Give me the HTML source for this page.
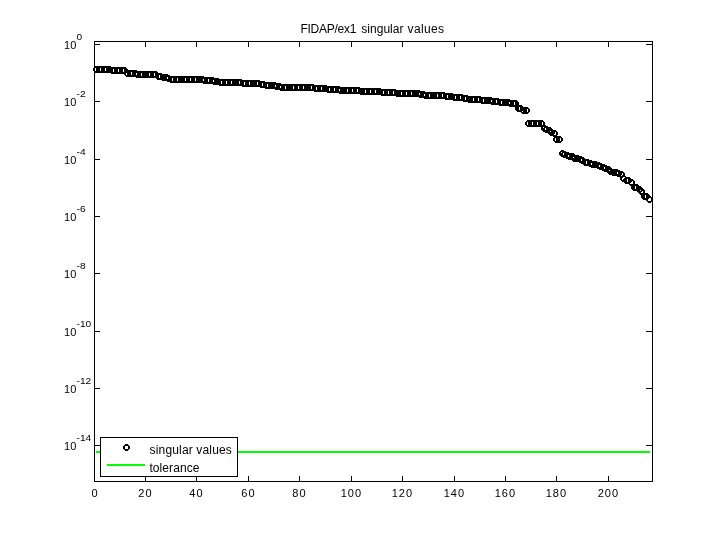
<!DOCTYPE html>
<html><head><meta charset="utf-8"><title>FIDAP/ex1 singular values</title>
<style>
html,body{margin:0;padding:0;background:#fff;}
body{width:720px;height:540px;overflow:hidden;}
svg{display:block;font-family:"Liberation Sans",sans-serif;fill:#000;}
</style></head><body>
<svg width="720" height="540" viewBox="0 0 720 540">
<rect x="0" y="0" width="720" height="540" fill="#fff"/>
<g><rect x="94" y="41" width="559" height="1" fill="#000"/><rect x="94" y="481" width="559" height="1" fill="#000"/><rect x="94" y="41" width="1" height="441" fill="#000"/><rect x="652" y="41" width="1" height="441" fill="#000"/><rect x="95" y="44" width="5" height="1" fill="#000"/><rect x="646" y="44" width="6" height="1" fill="#000"/><rect x="95" y="101" width="5" height="1" fill="#000"/><rect x="646" y="101" width="6" height="1" fill="#000"/><rect x="95" y="159" width="5" height="1" fill="#000"/><rect x="646" y="159" width="6" height="1" fill="#000"/><rect x="95" y="216" width="5" height="1" fill="#000"/><rect x="646" y="216" width="6" height="1" fill="#000"/><rect x="95" y="273" width="5" height="1" fill="#000"/><rect x="646" y="273" width="6" height="1" fill="#000"/><rect x="95" y="331" width="5" height="1" fill="#000"/><rect x="646" y="331" width="6" height="1" fill="#000"/><rect x="95" y="388" width="5" height="1" fill="#000"/><rect x="646" y="388" width="6" height="1" fill="#000"/><rect x="95" y="445" width="5" height="1" fill="#000"/><rect x="646" y="445" width="6" height="1" fill="#000"/><rect x="145" y="42" width="1" height="5" fill="#000"/><rect x="145" y="476" width="1" height="5" fill="#000"/><rect x="196" y="42" width="1" height="5" fill="#000"/><rect x="196" y="476" width="1" height="5" fill="#000"/><rect x="248" y="42" width="1" height="5" fill="#000"/><rect x="248" y="476" width="1" height="5" fill="#000"/><rect x="299" y="42" width="1" height="5" fill="#000"/><rect x="299" y="476" width="1" height="5" fill="#000"/><rect x="351" y="42" width="1" height="5" fill="#000"/><rect x="351" y="476" width="1" height="5" fill="#000"/><rect x="402" y="42" width="1" height="5" fill="#000"/><rect x="402" y="476" width="1" height="5" fill="#000"/><rect x="454" y="42" width="1" height="5" fill="#000"/><rect x="454" y="476" width="1" height="5" fill="#000"/><rect x="505" y="42" width="1" height="5" fill="#000"/><rect x="505" y="476" width="1" height="5" fill="#000"/><rect x="556" y="42" width="1" height="5" fill="#000"/><rect x="556" y="476" width="1" height="5" fill="#000"/><rect x="608" y="42" width="1" height="5" fill="#000"/><rect x="608" y="476" width="1" height="5" fill="#000"/><rect x="96" y="451" width="554" height="2" fill="#00ff00"/></g>
<g fill="#000" fill-rule="evenodd" shape-rendering="crispEdges"><path d="M95 66h3v1h1v1h1v3h-1v1h-1v1h-3v-1h-1v-1h-1v-3h1v-1h1zM95 68h3v3h-3z"/><path d="M98 66h3v1h1v1h1v3h-1v1h-1v1h-3v-1h-1v-1h-1v-3h1v-1h1zM98 68h3v3h-3z"/><path d="M100 66h3v1h1v1h1v3h-1v1h-1v1h-3v-1h-1v-1h-1v-3h1v-1h1zM100 68h3v3h-3z"/><path d="M103 66h3v1h1v1h1v3h-1v1h-1v1h-3v-1h-1v-1h-1v-3h1v-1h1zM103 68h3v3h-3z"/><path d="M105 66h3v1h1v1h1v3h-1v1h-1v1h-3v-1h-1v-1h-1v-3h1v-1h1zM105 68h3v3h-3z"/><path d="M108 66h3v1h1v1h1v3h-1v1h-1v1h-3v-1h-1v-1h-1v-3h1v-1h1zM108 68h3v3h-3z"/><path d="M111 67h3v1h1v1h1v3h-1v1h-1v1h-3v-1h-1v-1h-1v-3h1v-1h1zM111 69h3v3h-3z"/><path d="M113 67h3v1h1v1h1v3h-1v1h-1v1h-3v-1h-1v-1h-1v-3h1v-1h1zM113 69h3v3h-3z"/><path d="M116 67h3v1h1v1h1v3h-1v1h-1v1h-3v-1h-1v-1h-1v-3h1v-1h1zM116 69h3v3h-3z"/><path d="M118 67h3v1h1v1h1v3h-1v1h-1v1h-3v-1h-1v-1h-1v-3h1v-1h1zM118 69h3v3h-3z"/><path d="M121 67h3v1h1v1h1v3h-1v1h-1v1h-3v-1h-1v-1h-1v-3h1v-1h1zM121 69h3v3h-3z"/><path d="M123 67h3v1h1v1h1v3h-1v1h-1v1h-3v-1h-1v-1h-1v-3h1v-1h1zM123 69h3v3h-3z"/><path d="M126 70h3v1h1v1h1v3h-1v1h-1v1h-3v-1h-1v-1h-1v-3h1v-1h1zM126 72h3v3h-3z"/><path d="M129 70h3v1h1v1h1v3h-1v1h-1v1h-3v-1h-1v-1h-1v-3h1v-1h1zM129 72h3v3h-3z"/><path d="M131 70h3v1h1v1h1v3h-1v1h-1v1h-3v-1h-1v-1h-1v-3h1v-1h1zM131 72h3v3h-3z"/><path d="M134 70h3v1h1v1h1v3h-1v1h-1v1h-3v-1h-1v-1h-1v-3h1v-1h1zM134 72h3v3h-3z"/><path d="M136 71h3v1h1v1h1v3h-1v1h-1v1h-3v-1h-1v-1h-1v-3h1v-1h1zM136 73h3v3h-3z"/><path d="M139 71h3v1h1v1h1v3h-1v1h-1v1h-3v-1h-1v-1h-1v-3h1v-1h1zM139 73h3v3h-3z"/><path d="M141 71h3v1h1v1h1v3h-1v1h-1v1h-3v-1h-1v-1h-1v-3h1v-1h1zM141 73h3v3h-3z"/><path d="M144 71h3v1h1v1h1v3h-1v1h-1v1h-3v-1h-1v-1h-1v-3h1v-1h1zM144 73h3v3h-3z"/><path d="M147 71h3v1h1v1h1v3h-1v1h-1v1h-3v-1h-1v-1h-1v-3h1v-1h1zM147 73h3v3h-3z"/><path d="M149 71h3v1h1v1h1v3h-1v1h-1v1h-3v-1h-1v-1h-1v-3h1v-1h1zM149 73h3v3h-3z"/><path d="M152 71h3v1h1v1h1v3h-1v1h-1v1h-3v-1h-1v-1h-1v-3h1v-1h1zM152 73h3v3h-3z"/><path d="M154 71h3v1h1v1h1v3h-1v1h-1v1h-3v-1h-1v-1h-1v-3h1v-1h1zM154 73h3v3h-3z"/><path d="M157 73h3v1h1v1h1v3h-1v1h-1v1h-3v-1h-1v-1h-1v-3h1v-1h1zM157 75h3v3h-3z"/><path d="M159 73h3v1h1v1h1v3h-1v1h-1v1h-3v-1h-1v-1h-1v-3h1v-1h1zM159 75h3v3h-3z"/><path d="M162 74h3v1h1v1h1v3h-1v1h-1v1h-3v-1h-1v-1h-1v-3h1v-1h1zM162 76h3v3h-3z"/><path d="M165 74h3v1h1v1h1v3h-1v1h-1v1h-3v-1h-1v-1h-1v-3h1v-1h1zM165 76h3v3h-3z"/><path d="M167 75h3v1h1v1h1v3h-1v1h-1v1h-3v-1h-1v-1h-1v-3h1v-1h1zM167 77h3v3h-3z"/><path d="M170 76h3v1h1v1h1v3h-1v1h-1v1h-3v-1h-1v-1h-1v-3h1v-1h1zM170 78h3v3h-3z"/><path d="M172 76h3v1h1v1h1v3h-1v1h-1v1h-3v-1h-1v-1h-1v-3h1v-1h1zM172 78h3v3h-3z"/><path d="M175 76h3v1h1v1h1v3h-1v1h-1v1h-3v-1h-1v-1h-1v-3h1v-1h1zM175 78h3v3h-3z"/><path d="M177 76h3v1h1v1h1v3h-1v1h-1v1h-3v-1h-1v-1h-1v-3h1v-1h1zM177 78h3v3h-3z"/><path d="M180 76h3v1h1v1h1v3h-1v1h-1v1h-3v-1h-1v-1h-1v-3h1v-1h1zM180 78h3v3h-3z"/><path d="M183 76h3v1h1v1h1v3h-1v1h-1v1h-3v-1h-1v-1h-1v-3h1v-1h1zM183 78h3v3h-3z"/><path d="M185 76h3v1h1v1h1v3h-1v1h-1v1h-3v-1h-1v-1h-1v-3h1v-1h1zM185 78h3v3h-3z"/><path d="M188 76h3v1h1v1h1v3h-1v1h-1v1h-3v-1h-1v-1h-1v-3h1v-1h1zM188 78h3v3h-3z"/><path d="M190 76h3v1h1v1h1v3h-1v1h-1v1h-3v-1h-1v-1h-1v-3h1v-1h1zM190 78h3v3h-3z"/><path d="M193 76h3v1h1v1h1v3h-1v1h-1v1h-3v-1h-1v-1h-1v-3h1v-1h1zM193 78h3v3h-3z"/><path d="M195 76h3v1h1v1h1v3h-1v1h-1v1h-3v-1h-1v-1h-1v-3h1v-1h1zM195 78h3v3h-3z"/><path d="M198 76h3v1h1v1h1v3h-1v1h-1v1h-3v-1h-1v-1h-1v-3h1v-1h1zM198 78h3v3h-3z"/><path d="M201 76h3v1h1v1h1v3h-1v1h-1v1h-3v-1h-1v-1h-1v-3h1v-1h1zM201 78h3v3h-3z"/><path d="M203 77h3v1h1v1h1v3h-1v1h-1v1h-3v-1h-1v-1h-1v-3h1v-1h1zM203 79h3v3h-3z"/><path d="M206 77h3v1h1v1h1v3h-1v1h-1v1h-3v-1h-1v-1h-1v-3h1v-1h1zM206 79h3v3h-3z"/><path d="M208 77h3v1h1v1h1v3h-1v1h-1v1h-3v-1h-1v-1h-1v-3h1v-1h1zM208 79h3v3h-3z"/><path d="M211 77h3v1h1v1h1v3h-1v1h-1v1h-3v-1h-1v-1h-1v-3h1v-1h1zM211 79h3v3h-3z"/><path d="M213 78h3v1h1v1h1v3h-1v1h-1v1h-3v-1h-1v-1h-1v-3h1v-1h1zM213 80h3v3h-3z"/><path d="M216 78h3v1h1v1h1v3h-1v1h-1v1h-3v-1h-1v-1h-1v-3h1v-1h1zM216 80h3v3h-3z"/><path d="M219 79h3v1h1v1h1v3h-1v1h-1v1h-3v-1h-1v-1h-1v-3h1v-1h1zM219 81h3v3h-3z"/><path d="M221 79h3v1h1v1h1v3h-1v1h-1v1h-3v-1h-1v-1h-1v-3h1v-1h1zM221 81h3v3h-3z"/><path d="M224 79h3v1h1v1h1v3h-1v1h-1v1h-3v-1h-1v-1h-1v-3h1v-1h1zM224 81h3v3h-3z"/><path d="M226 79h3v1h1v1h1v3h-1v1h-1v1h-3v-1h-1v-1h-1v-3h1v-1h1zM226 81h3v3h-3z"/><path d="M229 79h3v1h1v1h1v3h-1v1h-1v1h-3v-1h-1v-1h-1v-3h1v-1h1zM229 81h3v3h-3z"/><path d="M231 79h3v1h1v1h1v3h-1v1h-1v1h-3v-1h-1v-1h-1v-3h1v-1h1zM231 81h3v3h-3z"/><path d="M234 79h3v1h1v1h1v3h-1v1h-1v1h-3v-1h-1v-1h-1v-3h1v-1h1zM234 81h3v3h-3z"/><path d="M237 79h3v1h1v1h1v3h-1v1h-1v1h-3v-1h-1v-1h-1v-3h1v-1h1zM237 81h3v3h-3z"/><path d="M239 79h3v1h1v1h1v3h-1v1h-1v1h-3v-1h-1v-1h-1v-3h1v-1h1zM239 81h3v3h-3z"/><path d="M242 80h3v1h1v1h1v3h-1v1h-1v1h-3v-1h-1v-1h-1v-3h1v-1h1zM242 82h3v3h-3z"/><path d="M244 80h3v1h1v1h1v3h-1v1h-1v1h-3v-1h-1v-1h-1v-3h1v-1h1zM244 82h3v3h-3z"/><path d="M247 80h3v1h1v1h1v3h-1v1h-1v1h-3v-1h-1v-1h-1v-3h1v-1h1zM247 82h3v3h-3z"/><path d="M249 80h3v1h1v1h1v3h-1v1h-1v1h-3v-1h-1v-1h-1v-3h1v-1h1zM249 82h3v3h-3z"/><path d="M252 80h3v1h1v1h1v3h-1v1h-1v1h-3v-1h-1v-1h-1v-3h1v-1h1zM252 82h3v3h-3z"/><path d="M255 80h3v1h1v1h1v3h-1v1h-1v1h-3v-1h-1v-1h-1v-3h1v-1h1zM255 82h3v3h-3z"/><path d="M257 80h3v1h1v1h1v3h-1v1h-1v1h-3v-1h-1v-1h-1v-3h1v-1h1zM257 82h3v3h-3z"/><path d="M260 81h3v1h1v1h1v3h-1v1h-1v1h-3v-1h-1v-1h-1v-3h1v-1h1zM260 83h3v3h-3z"/><path d="M262 81h3v1h1v1h1v3h-1v1h-1v1h-3v-1h-1v-1h-1v-3h1v-1h1zM262 83h3v3h-3z"/><path d="M265 82h3v1h1v1h1v3h-1v1h-1v1h-3v-1h-1v-1h-1v-3h1v-1h1zM265 84h3v3h-3z"/><path d="M267 82h3v1h1v1h1v3h-1v1h-1v1h-3v-1h-1v-1h-1v-3h1v-1h1zM267 84h3v3h-3z"/><path d="M270 82h3v1h1v1h1v3h-1v1h-1v1h-3v-1h-1v-1h-1v-3h1v-1h1zM270 84h3v3h-3z"/><path d="M273 82h3v1h1v1h1v3h-1v1h-1v1h-3v-1h-1v-1h-1v-3h1v-1h1zM273 84h3v3h-3z"/><path d="M275 83h3v1h1v1h1v3h-1v1h-1v1h-3v-1h-1v-1h-1v-3h1v-1h1zM275 85h3v3h-3z"/><path d="M278 83h3v1h1v1h1v3h-1v1h-1v1h-3v-1h-1v-1h-1v-3h1v-1h1zM278 85h3v3h-3z"/><path d="M280 84h3v1h1v1h1v3h-1v1h-1v1h-3v-1h-1v-1h-1v-3h1v-1h1zM280 86h3v3h-3z"/><path d="M283 84h3v1h1v1h1v3h-1v1h-1v1h-3v-1h-1v-1h-1v-3h1v-1h1zM283 86h3v3h-3z"/><path d="M285 84h3v1h1v1h1v3h-1v1h-1v1h-3v-1h-1v-1h-1v-3h1v-1h1zM285 86h3v3h-3z"/><path d="M288 84h3v1h1v1h1v3h-1v1h-1v1h-3v-1h-1v-1h-1v-3h1v-1h1zM288 86h3v3h-3z"/><path d="M291 84h3v1h1v1h1v3h-1v1h-1v1h-3v-1h-1v-1h-1v-3h1v-1h1zM291 86h3v3h-3z"/><path d="M293 84h3v1h1v1h1v3h-1v1h-1v1h-3v-1h-1v-1h-1v-3h1v-1h1zM293 86h3v3h-3z"/><path d="M296 84h3v1h1v1h1v3h-1v1h-1v1h-3v-1h-1v-1h-1v-3h1v-1h1zM296 86h3v3h-3z"/><path d="M298 84h3v1h1v1h1v3h-1v1h-1v1h-3v-1h-1v-1h-1v-3h1v-1h1zM298 86h3v3h-3z"/><path d="M301 84h3v1h1v1h1v3h-1v1h-1v1h-3v-1h-1v-1h-1v-3h1v-1h1zM301 86h3v3h-3z"/><path d="M303 84h3v1h1v1h1v3h-1v1h-1v1h-3v-1h-1v-1h-1v-3h1v-1h1zM303 86h3v3h-3z"/><path d="M306 84h3v1h1v1h1v3h-1v1h-1v1h-3v-1h-1v-1h-1v-3h1v-1h1zM306 86h3v3h-3z"/><path d="M309 84h3v1h1v1h1v3h-1v1h-1v1h-3v-1h-1v-1h-1v-3h1v-1h1zM309 86h3v3h-3z"/><path d="M311 84h3v1h1v1h1v3h-1v1h-1v1h-3v-1h-1v-1h-1v-3h1v-1h1zM311 86h3v3h-3z"/><path d="M314 85h3v1h1v1h1v3h-1v1h-1v1h-3v-1h-1v-1h-1v-3h1v-1h1zM314 87h3v3h-3z"/><path d="M316 85h3v1h1v1h1v3h-1v1h-1v1h-3v-1h-1v-1h-1v-3h1v-1h1zM316 87h3v3h-3z"/><path d="M319 85h3v1h1v1h1v3h-1v1h-1v1h-3v-1h-1v-1h-1v-3h1v-1h1zM319 87h3v3h-3z"/><path d="M321 85h3v1h1v1h1v3h-1v1h-1v1h-3v-1h-1v-1h-1v-3h1v-1h1zM321 87h3v3h-3z"/><path d="M324 85h3v1h1v1h1v3h-1v1h-1v1h-3v-1h-1v-1h-1v-3h1v-1h1zM324 87h3v3h-3z"/><path d="M327 86h3v1h1v1h1v3h-1v1h-1v1h-3v-1h-1v-1h-1v-3h1v-1h1zM327 88h3v3h-3z"/><path d="M329 86h3v1h1v1h1v3h-1v1h-1v1h-3v-1h-1v-1h-1v-3h1v-1h1zM329 88h3v3h-3z"/><path d="M332 86h3v1h1v1h1v3h-1v1h-1v1h-3v-1h-1v-1h-1v-3h1v-1h1zM332 88h3v3h-3z"/><path d="M334 86h3v1h1v1h1v3h-1v1h-1v1h-3v-1h-1v-1h-1v-3h1v-1h1zM334 88h3v3h-3z"/><path d="M337 86h3v1h1v1h1v3h-1v1h-1v1h-3v-1h-1v-1h-1v-3h1v-1h1zM337 88h3v3h-3z"/><path d="M339 87h3v1h1v1h1v3h-1v1h-1v1h-3v-1h-1v-1h-1v-3h1v-1h1zM339 89h3v3h-3z"/><path d="M342 87h3v1h1v1h1v3h-1v1h-1v1h-3v-1h-1v-1h-1v-3h1v-1h1zM342 89h3v3h-3z"/><path d="M345 87h3v1h1v1h1v3h-1v1h-1v1h-3v-1h-1v-1h-1v-3h1v-1h1zM345 89h3v3h-3z"/><path d="M347 87h3v1h1v1h1v3h-1v1h-1v1h-3v-1h-1v-1h-1v-3h1v-1h1zM347 89h3v3h-3z"/><path d="M350 87h3v1h1v1h1v3h-1v1h-1v1h-3v-1h-1v-1h-1v-3h1v-1h1zM350 89h3v3h-3z"/><path d="M352 87h3v1h1v1h1v3h-1v1h-1v1h-3v-1h-1v-1h-1v-3h1v-1h1zM352 89h3v3h-3z"/><path d="M355 87h3v1h1v1h1v3h-1v1h-1v1h-3v-1h-1v-1h-1v-3h1v-1h1zM355 89h3v3h-3z"/><path d="M357 87h3v1h1v1h1v3h-1v1h-1v1h-3v-1h-1v-1h-1v-3h1v-1h1zM357 89h3v3h-3z"/><path d="M360 88h3v1h1v1h1v3h-1v1h-1v1h-3v-1h-1v-1h-1v-3h1v-1h1zM360 90h3v3h-3z"/><path d="M363 88h3v1h1v1h1v3h-1v1h-1v1h-3v-1h-1v-1h-1v-3h1v-1h1zM363 90h3v3h-3z"/><path d="M365 88h3v1h1v1h1v3h-1v1h-1v1h-3v-1h-1v-1h-1v-3h1v-1h1zM365 90h3v3h-3z"/><path d="M368 88h3v1h1v1h1v3h-1v1h-1v1h-3v-1h-1v-1h-1v-3h1v-1h1zM368 90h3v3h-3z"/><path d="M370 88h3v1h1v1h1v3h-1v1h-1v1h-3v-1h-1v-1h-1v-3h1v-1h1zM370 90h3v3h-3z"/><path d="M373 88h3v1h1v1h1v3h-1v1h-1v1h-3v-1h-1v-1h-1v-3h1v-1h1zM373 90h3v3h-3z"/><path d="M375 88h3v1h1v1h1v3h-1v1h-1v1h-3v-1h-1v-1h-1v-3h1v-1h1zM375 90h3v3h-3z"/><path d="M378 88h3v1h1v1h1v3h-1v1h-1v1h-3v-1h-1v-1h-1v-3h1v-1h1zM378 90h3v3h-3z"/><path d="M381 89h3v1h1v1h1v3h-1v1h-1v1h-3v-1h-1v-1h-1v-3h1v-1h1zM381 91h3v3h-3z"/><path d="M383 89h3v1h1v1h1v3h-1v1h-1v1h-3v-1h-1v-1h-1v-3h1v-1h1zM383 91h3v3h-3z"/><path d="M386 89h3v1h1v1h1v3h-1v1h-1v1h-3v-1h-1v-1h-1v-3h1v-1h1zM386 91h3v3h-3z"/><path d="M388 89h3v1h1v1h1v3h-1v1h-1v1h-3v-1h-1v-1h-1v-3h1v-1h1zM388 91h3v3h-3z"/><path d="M391 89h3v1h1v1h1v3h-1v1h-1v1h-3v-1h-1v-1h-1v-3h1v-1h1zM391 91h3v3h-3z"/><path d="M393 89h3v1h1v1h1v3h-1v1h-1v1h-3v-1h-1v-1h-1v-3h1v-1h1zM393 91h3v3h-3z"/><path d="M396 90h3v1h1v1h1v3h-1v1h-1v1h-3v-1h-1v-1h-1v-3h1v-1h1zM396 92h3v3h-3z"/><path d="M399 90h3v1h1v1h1v3h-1v1h-1v1h-3v-1h-1v-1h-1v-3h1v-1h1zM399 92h3v3h-3z"/><path d="M401 90h3v1h1v1h1v3h-1v1h-1v1h-3v-1h-1v-1h-1v-3h1v-1h1zM401 92h3v3h-3z"/><path d="M404 90h3v1h1v1h1v3h-1v1h-1v1h-3v-1h-1v-1h-1v-3h1v-1h1zM404 92h3v3h-3z"/><path d="M406 90h3v1h1v1h1v3h-1v1h-1v1h-3v-1h-1v-1h-1v-3h1v-1h1zM406 92h3v3h-3z"/><path d="M409 90h3v1h1v1h1v3h-1v1h-1v1h-3v-1h-1v-1h-1v-3h1v-1h1zM409 92h3v3h-3z"/><path d="M411 90h3v1h1v1h1v3h-1v1h-1v1h-3v-1h-1v-1h-1v-3h1v-1h1zM411 92h3v3h-3z"/><path d="M414 90h3v1h1v1h1v3h-1v1h-1v1h-3v-1h-1v-1h-1v-3h1v-1h1zM414 92h3v3h-3z"/><path d="M417 90h3v1h1v1h1v3h-1v1h-1v1h-3v-1h-1v-1h-1v-3h1v-1h1zM417 92h3v3h-3z"/><path d="M419 91h3v1h1v1h1v3h-1v1h-1v1h-3v-1h-1v-1h-1v-3h1v-1h1zM419 93h3v3h-3z"/><path d="M422 91h3v1h1v1h1v3h-1v1h-1v1h-3v-1h-1v-1h-1v-3h1v-1h1zM422 93h3v3h-3z"/><path d="M424 92h3v1h1v1h1v3h-1v1h-1v1h-3v-1h-1v-1h-1v-3h1v-1h1zM424 94h3v3h-3z"/><path d="M427 92h3v1h1v1h1v3h-1v1h-1v1h-3v-1h-1v-1h-1v-3h1v-1h1zM427 94h3v3h-3z"/><path d="M429 92h3v1h1v1h1v3h-1v1h-1v1h-3v-1h-1v-1h-1v-3h1v-1h1zM429 94h3v3h-3z"/><path d="M432 92h3v1h1v1h1v3h-1v1h-1v1h-3v-1h-1v-1h-1v-3h1v-1h1zM432 94h3v3h-3z"/><path d="M435 92h3v1h1v1h1v3h-1v1h-1v1h-3v-1h-1v-1h-1v-3h1v-1h1zM435 94h3v3h-3z"/><path d="M437 92h3v1h1v1h1v3h-1v1h-1v1h-3v-1h-1v-1h-1v-3h1v-1h1zM437 94h3v3h-3z"/><path d="M440 92h3v1h1v1h1v3h-1v1h-1v1h-3v-1h-1v-1h-1v-3h1v-1h1zM440 94h3v3h-3z"/><path d="M442 92h3v1h1v1h1v3h-1v1h-1v1h-3v-1h-1v-1h-1v-3h1v-1h1zM442 94h3v3h-3z"/><path d="M445 93h3v1h1v1h1v3h-1v1h-1v1h-3v-1h-1v-1h-1v-3h1v-1h1zM445 95h3v3h-3z"/><path d="M447 93h3v1h1v1h1v3h-1v1h-1v1h-3v-1h-1v-1h-1v-3h1v-1h1zM447 95h3v3h-3z"/><path d="M450 93h3v1h1v1h1v3h-1v1h-1v1h-3v-1h-1v-1h-1v-3h1v-1h1zM450 95h3v3h-3z"/><path d="M453 94h3v1h1v1h1v3h-1v1h-1v1h-3v-1h-1v-1h-1v-3h1v-1h1zM453 96h3v3h-3z"/><path d="M455 94h3v1h1v1h1v3h-1v1h-1v1h-3v-1h-1v-1h-1v-3h1v-1h1zM455 96h3v3h-3z"/><path d="M458 94h3v1h1v1h1v3h-1v1h-1v1h-3v-1h-1v-1h-1v-3h1v-1h1zM458 96h3v3h-3z"/><path d="M460 94h3v1h1v1h1v3h-1v1h-1v1h-3v-1h-1v-1h-1v-3h1v-1h1zM460 96h3v3h-3z"/><path d="M463 95h3v1h1v1h1v3h-1v1h-1v1h-3v-1h-1v-1h-1v-3h1v-1h1zM463 97h3v3h-3z"/><path d="M465 95h3v1h1v1h1v3h-1v1h-1v1h-3v-1h-1v-1h-1v-3h1v-1h1zM465 97h3v3h-3z"/><path d="M468 96h3v1h1v1h1v3h-1v1h-1v1h-3v-1h-1v-1h-1v-3h1v-1h1zM468 98h3v3h-3z"/><path d="M471 96h3v1h1v1h1v3h-1v1h-1v1h-3v-1h-1v-1h-1v-3h1v-1h1zM471 98h3v3h-3z"/><path d="M473 96h3v1h1v1h1v3h-1v1h-1v1h-3v-1h-1v-1h-1v-3h1v-1h1zM473 98h3v3h-3z"/><path d="M476 96h3v1h1v1h1v3h-1v1h-1v1h-3v-1h-1v-1h-1v-3h1v-1h1zM476 98h3v3h-3z"/><path d="M478 96h3v1h1v1h1v3h-1v1h-1v1h-3v-1h-1v-1h-1v-3h1v-1h1zM478 98h3v3h-3z"/><path d="M481 97h3v1h1v1h1v3h-1v1h-1v1h-3v-1h-1v-1h-1v-3h1v-1h1zM481 99h3v3h-3z"/><path d="M483 97h3v1h1v1h1v3h-1v1h-1v1h-3v-1h-1v-1h-1v-3h1v-1h1zM483 99h3v3h-3z"/><path d="M486 97h3v1h1v1h1v3h-1v1h-1v1h-3v-1h-1v-1h-1v-3h1v-1h1zM486 99h3v3h-3z"/><path d="M489 97h3v1h1v1h1v3h-1v1h-1v1h-3v-1h-1v-1h-1v-3h1v-1h1zM489 99h3v3h-3z"/><path d="M491 98h3v1h1v1h1v3h-1v1h-1v1h-3v-1h-1v-1h-1v-3h1v-1h1zM491 100h3v3h-3z"/><path d="M494 98h3v1h1v1h1v3h-1v1h-1v1h-3v-1h-1v-1h-1v-3h1v-1h1zM494 100h3v3h-3z"/><path d="M496 98h3v1h1v1h1v3h-1v1h-1v1h-3v-1h-1v-1h-1v-3h1v-1h1zM496 100h3v3h-3z"/><path d="M499 99h3v1h1v1h1v3h-1v1h-1v1h-3v-1h-1v-1h-1v-3h1v-1h1zM499 101h3v3h-3z"/><path d="M501 99h3v1h1v1h1v3h-1v1h-1v1h-3v-1h-1v-1h-1v-3h1v-1h1zM501 101h3v3h-3z"/><path d="M504 99h3v1h1v1h1v3h-1v1h-1v1h-3v-1h-1v-1h-1v-3h1v-1h1zM504 101h3v3h-3z"/><path d="M507 99h3v1h1v1h1v3h-1v1h-1v1h-3v-1h-1v-1h-1v-3h1v-1h1zM507 101h3v3h-3z"/><path d="M509 100h3v1h1v1h1v3h-1v1h-1v1h-3v-1h-1v-1h-1v-3h1v-1h1zM509 102h3v3h-3z"/><path d="M512 100h3v1h1v1h1v3h-1v1h-1v1h-3v-1h-1v-1h-1v-3h1v-1h1zM512 102h3v3h-3z"/><path d="M514 100h3v1h1v1h1v3h-1v1h-1v1h-3v-1h-1v-1h-1v-3h1v-1h1zM514 102h3v3h-3z"/><path d="M517 105h3v1h1v1h1v3h-1v1h-1v1h-3v-1h-1v-1h-1v-3h1v-1h1zM517 107h3v3h-3z"/><path d="M519 105h3v1h1v1h1v3h-1v1h-1v1h-3v-1h-1v-1h-1v-3h1v-1h1zM519 107h3v3h-3z"/><path d="M522 107h3v1h1v1h1v3h-1v1h-1v1h-3v-1h-1v-1h-1v-3h1v-1h1zM522 109h3v3h-3z"/><path d="M525 107h3v1h1v1h1v3h-1v1h-1v1h-3v-1h-1v-1h-1v-3h1v-1h1zM525 109h3v3h-3z"/><path d="M527 120h3v1h1v1h1v3h-1v1h-1v1h-3v-1h-1v-1h-1v-3h1v-1h1zM527 122h3v3h-3z"/><path d="M530 120h3v1h1v1h1v3h-1v1h-1v1h-3v-1h-1v-1h-1v-3h1v-1h1zM530 122h3v3h-3z"/><path d="M532 120h3v1h1v1h1v3h-1v1h-1v1h-3v-1h-1v-1h-1v-3h1v-1h1zM532 122h3v3h-3z"/><path d="M535 120h3v1h1v1h1v3h-1v1h-1v1h-3v-1h-1v-1h-1v-3h1v-1h1zM535 122h3v3h-3z"/><path d="M537 120h3v1h1v1h1v3h-1v1h-1v1h-3v-1h-1v-1h-1v-3h1v-1h1zM537 122h3v3h-3z"/><path d="M540 120h3v1h1v1h1v3h-1v1h-1v1h-3v-1h-1v-1h-1v-3h1v-1h1zM540 122h3v3h-3z"/><path d="M543 125h3v1h1v1h1v3h-1v1h-1v1h-3v-1h-1v-1h-1v-3h1v-1h1zM543 127h3v3h-3z"/><path d="M545 126h3v1h1v1h1v3h-1v1h-1v1h-3v-1h-1v-1h-1v-3h1v-1h1zM545 128h3v3h-3z"/><path d="M548 127h3v1h1v1h1v3h-1v1h-1v1h-3v-1h-1v-1h-1v-3h1v-1h1zM548 129h3v3h-3z"/><path d="M550 129h3v1h1v1h1v3h-1v1h-1v1h-3v-1h-1v-1h-1v-3h1v-1h1zM550 131h3v3h-3z"/><path d="M553 130h3v1h1v1h1v3h-1v1h-1v1h-3v-1h-1v-1h-1v-3h1v-1h1zM553 132h3v3h-3z"/><path d="M555 136h3v1h1v1h1v3h-1v1h-1v1h-3v-1h-1v-1h-1v-3h1v-1h1zM555 138h3v3h-3z"/><path d="M558 136h3v1h1v1h1v3h-1v1h-1v1h-3v-1h-1v-1h-1v-3h1v-1h1zM558 138h3v3h-3z"/><path d="M561 150h3v1h1v1h1v3h-1v1h-1v1h-3v-1h-1v-1h-1v-3h1v-1h1zM561 152h3v3h-3z"/><path d="M563 151h3v1h1v1h1v3h-1v1h-1v1h-3v-1h-1v-1h-1v-3h1v-1h1zM563 153h3v3h-3z"/><path d="M566 152h3v1h1v1h1v3h-1v1h-1v1h-3v-1h-1v-1h-1v-3h1v-1h1zM566 154h3v3h-3z"/><path d="M568 153h3v1h1v1h1v3h-1v1h-1v1h-3v-1h-1v-1h-1v-3h1v-1h1zM568 155h3v3h-3z"/><path d="M571 153h3v1h1v1h1v3h-1v1h-1v1h-3v-1h-1v-1h-1v-3h1v-1h1zM571 155h3v3h-3z"/><path d="M573 155h3v1h1v1h1v3h-1v1h-1v1h-3v-1h-1v-1h-1v-3h1v-1h1zM573 157h3v3h-3z"/><path d="M576 155h3v1h1v1h1v3h-1v1h-1v1h-3v-1h-1v-1h-1v-3h1v-1h1zM576 157h3v3h-3z"/><path d="M579 156h3v1h1v1h1v3h-1v1h-1v1h-3v-1h-1v-1h-1v-3h1v-1h1zM579 158h3v3h-3z"/><path d="M581 157h3v1h1v1h1v3h-1v1h-1v1h-3v-1h-1v-1h-1v-3h1v-1h1zM581 159h3v3h-3z"/><path d="M584 159h3v1h1v1h1v3h-1v1h-1v1h-3v-1h-1v-1h-1v-3h1v-1h1zM584 161h3v3h-3z"/><path d="M586 159h3v1h1v1h1v3h-1v1h-1v1h-3v-1h-1v-1h-1v-3h1v-1h1zM586 161h3v3h-3z"/><path d="M589 160h3v1h1v1h1v3h-1v1h-1v1h-3v-1h-1v-1h-1v-3h1v-1h1zM589 162h3v3h-3z"/><path d="M591 161h3v1h1v1h1v3h-1v1h-1v1h-3v-1h-1v-1h-1v-3h1v-1h1zM591 163h3v3h-3z"/><path d="M594 161h3v1h1v1h1v3h-1v1h-1v1h-3v-1h-1v-1h-1v-3h1v-1h1zM594 163h3v3h-3z"/><path d="M597 162h3v1h1v1h1v3h-1v1h-1v1h-3v-1h-1v-1h-1v-3h1v-1h1zM597 164h3v3h-3z"/><path d="M599 163h3v1h1v1h1v3h-1v1h-1v1h-3v-1h-1v-1h-1v-3h1v-1h1zM599 165h3v3h-3z"/><path d="M602 164h3v1h1v1h1v3h-1v1h-1v1h-3v-1h-1v-1h-1v-3h1v-1h1zM602 166h3v3h-3z"/><path d="M604 165h3v1h1v1h1v3h-1v1h-1v1h-3v-1h-1v-1h-1v-3h1v-1h1zM604 167h3v3h-3z"/><path d="M607 166h3v1h1v1h1v3h-1v1h-1v1h-3v-1h-1v-1h-1v-3h1v-1h1zM607 168h3v3h-3z"/><path d="M609 168h3v1h1v1h1v3h-1v1h-1v1h-3v-1h-1v-1h-1v-3h1v-1h1zM609 170h3v3h-3z"/><path d="M612 169h3v1h1v1h1v3h-1v1h-1v1h-3v-1h-1v-1h-1v-3h1v-1h1zM612 171h3v3h-3z"/><path d="M615 169h3v1h1v1h1v3h-1v1h-1v1h-3v-1h-1v-1h-1v-3h1v-1h1zM615 171h3v3h-3z"/><path d="M617 170h3v1h1v1h1v3h-1v1h-1v1h-3v-1h-1v-1h-1v-3h1v-1h1zM617 172h3v3h-3z"/><path d="M620 171h3v1h1v1h1v3h-1v1h-1v1h-3v-1h-1v-1h-1v-3h1v-1h1zM620 173h3v3h-3z"/><path d="M622 175h3v1h1v1h1v3h-1v1h-1v1h-3v-1h-1v-1h-1v-3h1v-1h1zM622 177h3v3h-3z"/><path d="M625 177h3v1h1v1h1v3h-1v1h-1v1h-3v-1h-1v-1h-1v-3h1v-1h1zM625 179h3v3h-3z"/><path d="M627 177h3v1h1v1h1v3h-1v1h-1v1h-3v-1h-1v-1h-1v-3h1v-1h1zM627 179h3v3h-3z"/><path d="M630 179h3v1h1v1h1v3h-1v1h-1v1h-3v-1h-1v-1h-1v-3h1v-1h1zM630 181h3v3h-3z"/><path d="M633 184h3v1h1v1h1v3h-1v1h-1v1h-3v-1h-1v-1h-1v-3h1v-1h1zM633 186h3v3h-3z"/><path d="M635 184h3v1h1v1h1v3h-1v1h-1v1h-3v-1h-1v-1h-1v-3h1v-1h1zM635 186h3v3h-3z"/><path d="M638 186h3v1h1v1h1v3h-1v1h-1v1h-3v-1h-1v-1h-1v-3h1v-1h1zM638 188h3v3h-3z"/><path d="M640 188h3v1h1v1h1v3h-1v1h-1v1h-3v-1h-1v-1h-1v-3h1v-1h1zM640 190h3v3h-3z"/><path d="M643 193h3v1h1v1h1v3h-1v1h-1v1h-3v-1h-1v-1h-1v-3h1v-1h1zM643 195h3v3h-3z"/><path d="M645 193h3v1h1v1h1v3h-1v1h-1v1h-3v-1h-1v-1h-1v-3h1v-1h1zM645 195h3v3h-3z"/><path d="M648 196h3v1h1v1h1v3h-1v1h-1v1h-3v-1h-1v-1h-1v-3h1v-1h1zM648 198h3v3h-3z"/></g>
<g><rect x="100.5" y="437.5" width="137" height="39" fill="#fff" stroke="#000" stroke-width="1" shape-rendering="crispEdges"/><path fill-rule="evenodd" shape-rendering="crispEdges" d="M125 444h3v1h1v1h1v3h-1v1h-1v1h-3v-1h-1v-1h-1v-3h1v-1h1zM125 446h3v3h-3z"/><rect x="107" y="464" width="38" height="2" fill="#00ff00"/><text x="149.6" y="454.2" font-size="12" textLength="82.2" lengthAdjust="spacing">singular values</text><text x="149.4" y="472.2" font-size="12" textLength="50.0" lengthAdjust="spacing">tolerance</text></g>
<g><text y="33" font-size="12"><tspan x="300.4" letter-spacing="-0.25">FIDAP/ex1 </tspan><tspan x="361.2" letter-spacing="0.05">singular </tspan><tspan x="407.6" letter-spacing="0.32">values</tspan></text><text x="95.0" y="497" font-size="11" letter-spacing="1" text-anchor="middle">0</text><text x="145.4" y="497" font-size="11" letter-spacing="1" text-anchor="middle">20</text><text x="196.4" y="497" font-size="11" letter-spacing="1" text-anchor="middle">40</text><text x="248.4" y="497" font-size="11" letter-spacing="1" text-anchor="middle">60</text><text x="299.4" y="497" font-size="11" letter-spacing="1" text-anchor="middle">80</text><text x="351.4" y="497" font-size="11" letter-spacing="1" text-anchor="middle">100</text><text x="402.4" y="497" font-size="11" letter-spacing="1" text-anchor="middle">120</text><text x="454.4" y="497" font-size="11" letter-spacing="1" text-anchor="middle">140</text><text x="505.4" y="497" font-size="11" letter-spacing="1" text-anchor="middle">160</text><text x="556.4" y="497" font-size="11" letter-spacing="1" text-anchor="middle">180</text><text x="608.4" y="497" font-size="11" letter-spacing="1" text-anchor="middle">200</text><text x="63.9" y="48.7" font-size="11" letter-spacing="0.2">10</text><text transform="translate(76.5 39.9) scale(1.2 1)" font-size="8.5">0</text><text x="63.9" y="105.7" font-size="11" letter-spacing="0.2">10</text><text transform="translate(76.5 96.9) scale(1.2 1)" font-size="8.5">-2</text><text x="63.9" y="163.7" font-size="11" letter-spacing="0.2">10</text><text transform="translate(76.5 154.9) scale(1.2 1)" font-size="8.5">-4</text><text x="63.9" y="220.7" font-size="11" letter-spacing="0.2">10</text><text transform="translate(76.5 211.9) scale(1.2 1)" font-size="8.5">-6</text><text x="63.9" y="277.7" font-size="11" letter-spacing="0.2">10</text><text transform="translate(76.5 268.9) scale(1.2 1)" font-size="8.5">-8</text><text x="63.9" y="335.7" font-size="11" letter-spacing="0.2">10</text><text transform="translate(76.5 326.9) scale(1.2 1)" font-size="8.5">-10</text><text x="63.9" y="392.7" font-size="11" letter-spacing="0.2">10</text><text transform="translate(76.5 383.9) scale(1.2 1)" font-size="8.5">-12</text><text x="63.9" y="449.7" font-size="11" letter-spacing="0.2">10</text><text transform="translate(76.5 440.9) scale(1.2 1)" font-size="8.5">-14</text></g>
</svg>
</body></html>
